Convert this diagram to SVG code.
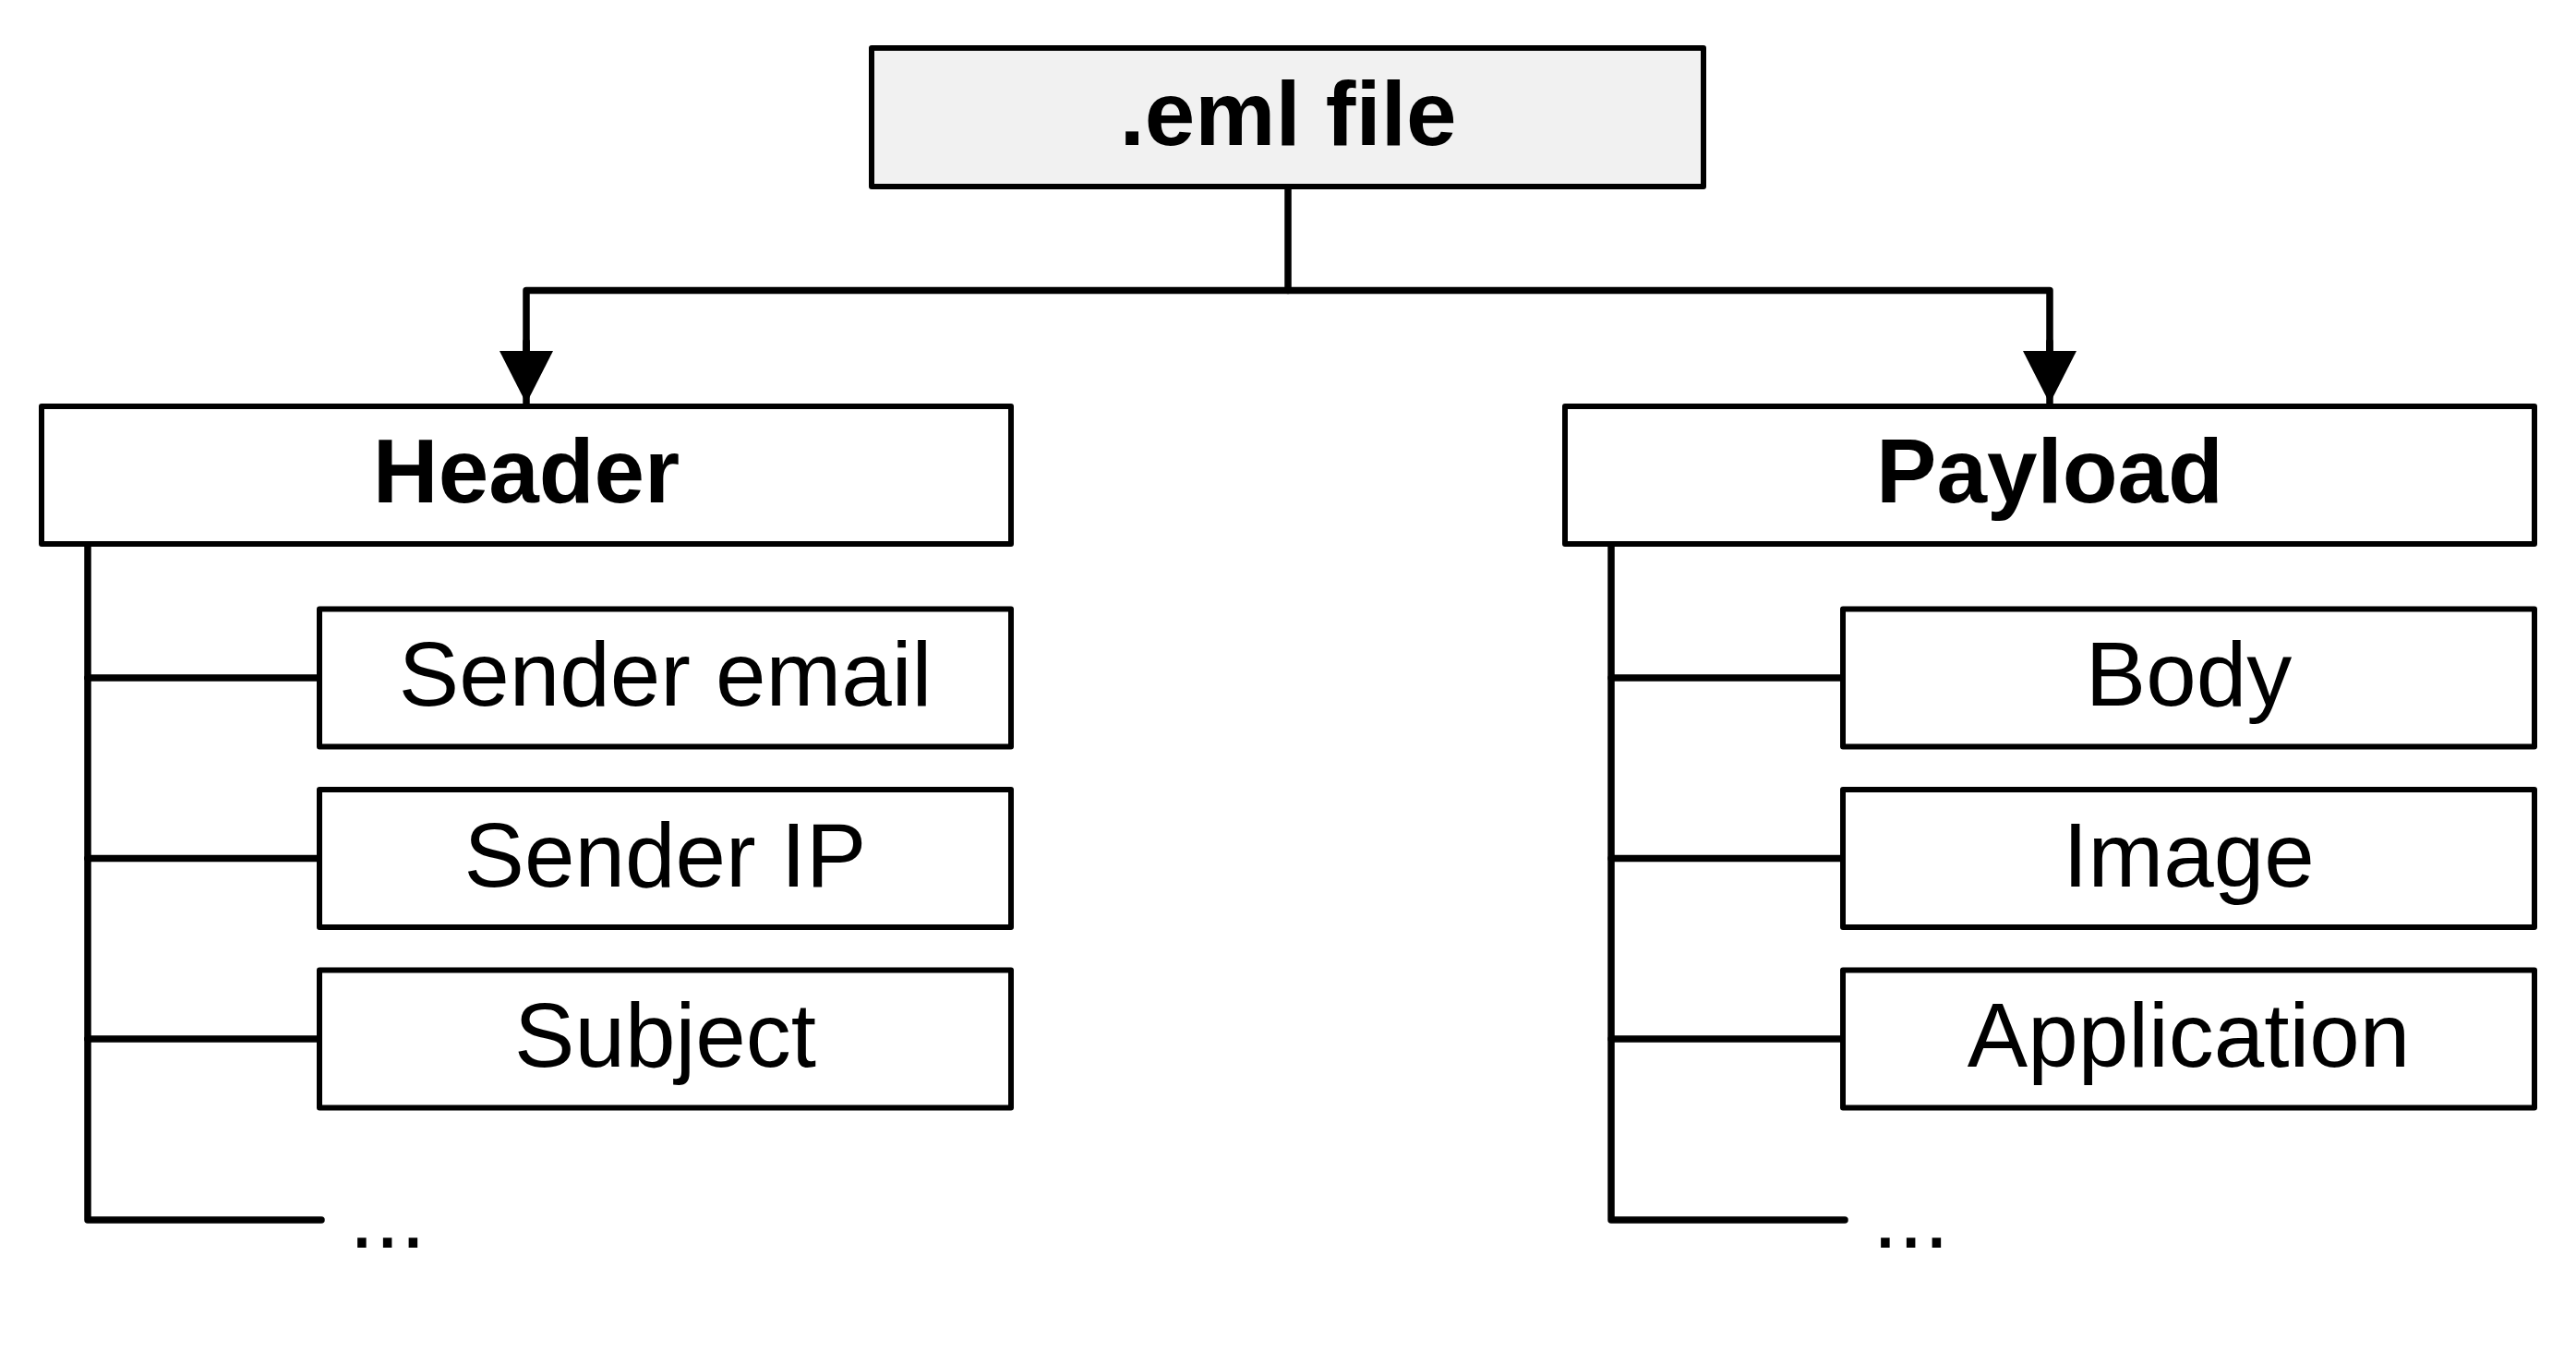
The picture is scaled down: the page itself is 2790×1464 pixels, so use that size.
<svg xmlns="http://www.w3.org/2000/svg" width="2790" height="1464" viewBox="0 0 2790 1464">
  <style>
    .box { fill: #ffffff; stroke: #000000; stroke-width: 6; stroke-linejoin: round; }
    .root { fill: #f1f1f1; }
    .ln { fill: none; stroke: #000000; stroke-width: 7.5; stroke-linecap: round; stroke-linejoin: round; }
    .tb { font-family: "Liberation Sans", Arial, sans-serif; font-size: 98px; font-weight: bold; text-anchor: middle; fill: #000; }
    .tr { font-family: "Liberation Sans", Arial, sans-serif; font-size: 98px; text-anchor: middle; fill: #000; }
    .dots { font-family: "Liberation Sans", Arial, sans-serif; font-size: 100px; fill: #000; }
  </style>
  <defs>
    <marker id="arrow" markerUnits="userSpaceOnUse" markerWidth="58" markerHeight="58" viewBox="0 0 58 58" refX="57" refY="29" orient="auto">
      <path d="M0,0 L57,29 L0,58 z" fill="#000"/>
    </marker>
  </defs>
  <rect width="2790" height="1464" fill="#ffffff"/>

  <g id="connectors">
    <path class="ln" d="M1395,202 V314.5"/>
    <path class="ln" d="M570,380 V314.5 H2220 V380"/>
    <path class="ln" d="M570,370 V437" marker-end="url(#arrow)"/>
    <path class="ln" d="M2220,370 V437" marker-end="url(#arrow)"/>
    <path class="ln" d="M95,589 V1321 H348"/>
    <path class="ln" d="M95,734 H346"/>
    <path class="ln" d="M95,929.5 H346"/>
    <path class="ln" d="M95,1125 H346"/>
    <path class="ln" d="M1745,589 V1321 H1998"/>
    <path class="ln" d="M1745,734 H1996"/>
    <path class="ln" d="M1745,929.5 H1996"/>
    <path class="ln" d="M1745,1125 H1996"/>
  </g>

  <g id="eml">
    <rect class="box root" x="944" y="52" width="901" height="150"/>
    <text class="tb" x="1395" y="157">.eml file</text>
  </g>

  <g id="header">
    <rect class="box" x="45" y="440" width="1050" height="149"/>
    <text class="tb" x="570" y="544">Header</text>
  </g>
  <g id="sender-email">
    <rect class="box" x="346" y="659.5" width="749" height="149"/>
    <text class="tr" x="720.5" y="764">Sender email</text>
  </g>
  <g id="sender-ip">
    <rect class="box" x="346" y="855" width="749" height="149"/>
    <text class="tr" x="720.5" y="959.5">Sender IP</text>
  </g>
  <g id="subject">
    <rect class="box" x="346" y="1050.5" width="749" height="149"/>
    <text class="tr" x="720.5" y="1155">Subject</text>
  </g>
  <g id="header-more">
    <text class="dots" x="378" y="1351">...</text>
  </g>

  <g id="payload">
    <rect class="box" x="1695" y="440" width="1050" height="149"/>
    <text class="tb" x="2220" y="544">Payload</text>
  </g>
  <g id="body">
    <rect class="box" x="1996" y="659.5" width="749" height="149"/>
    <text class="tr" x="2370.5" y="764">Body</text>
  </g>
  <g id="image">
    <rect class="box" x="1996" y="855" width="749" height="149"/>
    <text class="tr" x="2370.5" y="959.5">Image</text>
  </g>
  <g id="application">
    <rect class="box" x="1996" y="1050.5" width="749" height="149"/>
    <text class="tr" x="2370.5" y="1155">Application</text>
  </g>
  <g id="payload-more">
    <text class="dots" x="2028" y="1351">...</text>
  </g>
</svg>
